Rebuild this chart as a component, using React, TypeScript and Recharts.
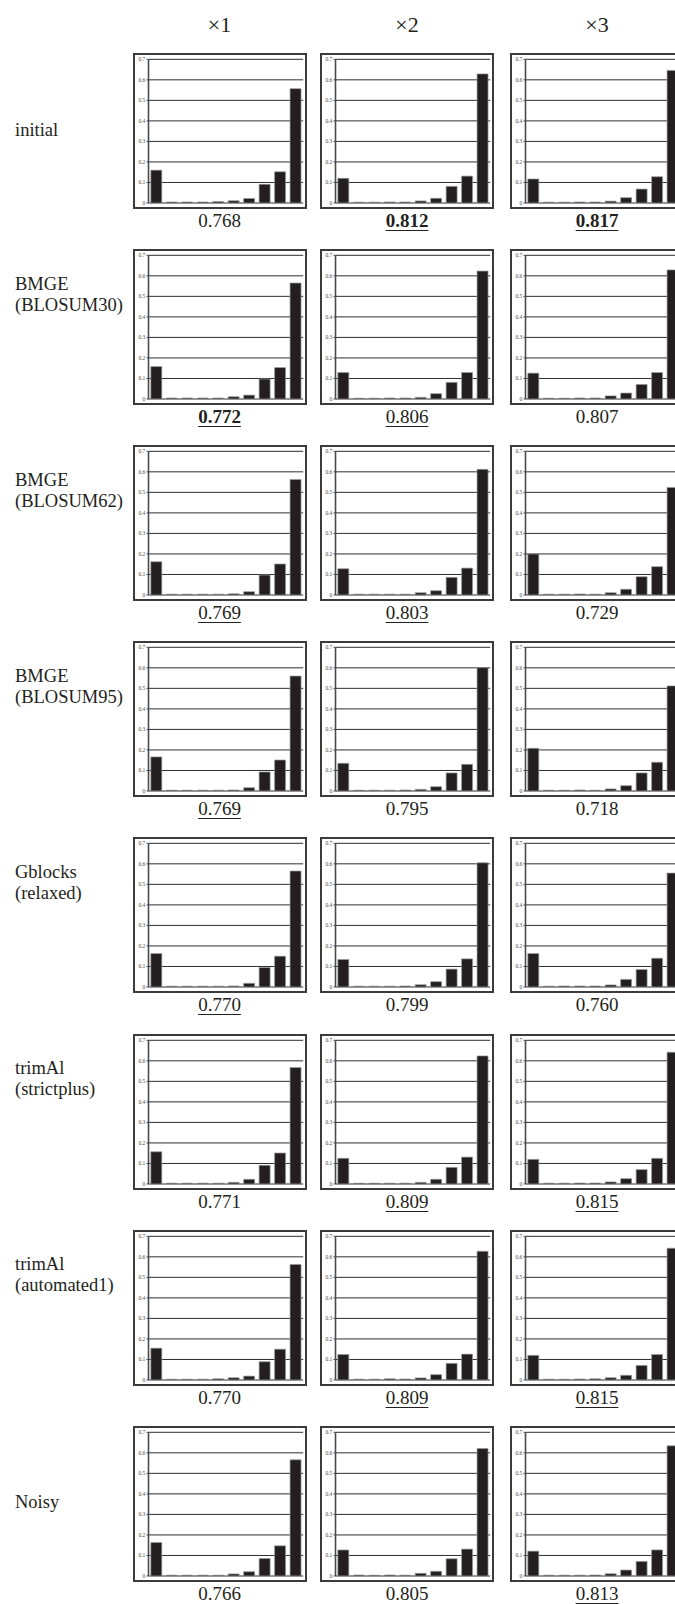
import { BarChart, Bar, XAxis, YAxis, CartesianGrid } from "recharts";

// score-histogram bins (10 per panel, no labels shown)
const BINS = ["0.0", "0.1", "0.2", "0.3", "0.4", "0.5", "0.6", "0.7", "0.8", "0.9"];
const Y_TICKS = [0, 0.1, 0.2, 0.3, 0.4, 0.5, 0.6, 0.7];
const COLUMNS = ["\u00d71", "\u00d72", "\u00d73"];

// one list per row, one inner list per column (x1, x2, x3)
const initial = [
  [0.16, 0.005, 0.005, 0.005, 0.007, 0.011, 0.022, 0.091, 0.152, 0.557],
  [0.12, 0.004, 0.004, 0.005, 0.005, 0.01, 0.023, 0.081, 0.131, 0.629],
  [0.117, 0.004, 0.004, 0.005, 0.005, 0.009, 0.026, 0.068, 0.128, 0.646],
];
const bmge30 = [
  [0.158, 0.005, 0.005, 0.005, 0.005, 0.011, 0.019, 0.097, 0.153, 0.565],
  [0.129, 0.004, 0.004, 0.005, 0.005, 0.008, 0.026, 0.081, 0.129, 0.623],
  [0.126, 0.004, 0.004, 0.005, 0.005, 0.015, 0.029, 0.071, 0.129, 0.629],
];
const bmge62 = [
  [0.162, 0.004, 0.004, 0.004, 0.004, 0.006, 0.016, 0.097, 0.151, 0.563],
  [0.128, 0.004, 0.004, 0.004, 0.004, 0.011, 0.021, 0.086, 0.131, 0.612],
  [0.2, 0.004, 0.004, 0.005, 0.004, 0.011, 0.028, 0.089, 0.138, 0.524],
];
const bmge95 = [
  [0.166, 0.004, 0.004, 0.004, 0.004, 0.005, 0.016, 0.093, 0.151, 0.56],
  [0.135, 0.004, 0.004, 0.004, 0.005, 0.008, 0.021, 0.088, 0.13, 0.601],
  [0.208, 0.004, 0.004, 0.005, 0.004, 0.01, 0.026, 0.088, 0.14, 0.512],
];
const gblocks = [
  [0.163, 0.004, 0.004, 0.004, 0.004, 0.005, 0.018, 0.095, 0.15, 0.565],
  [0.134, 0.004, 0.004, 0.004, 0.005, 0.011, 0.026, 0.087, 0.137, 0.605],
  [0.163, 0.004, 0.005, 0.005, 0.005, 0.01, 0.037, 0.085, 0.14, 0.555],
];
const strictplus = [
  [0.157, 0.004, 0.004, 0.004, 0.004, 0.008, 0.023, 0.091, 0.151, 0.567],
  [0.125, 0.004, 0.004, 0.004, 0.004, 0.008, 0.023, 0.081, 0.131, 0.624],
  [0.12, 0.004, 0.004, 0.005, 0.005, 0.01, 0.026, 0.07, 0.125, 0.642],
];
const automated1 = [
  [0.155, 0.004, 0.004, 0.004, 0.006, 0.011, 0.019, 0.089, 0.15, 0.563],
  [0.124, 0.004, 0.004, 0.006, 0.005, 0.01, 0.026, 0.081, 0.126, 0.627],
  [0.12, 0.004, 0.004, 0.005, 0.006, 0.011, 0.023, 0.071, 0.124, 0.642],
];
const noisy = [
  [0.163, 0.004, 0.004, 0.004, 0.004, 0.01, 0.021, 0.085, 0.147, 0.566],
  [0.127, 0.005, 0.004, 0.005, 0.004, 0.013, 0.023, 0.084, 0.131, 0.621],
  [0.121, 0.004, 0.004, 0.004, 0.005, 0.011, 0.029, 0.071, 0.127, 0.634],
];

const ROW_NAMES = [
  ["initial"],
  ["BMGE", "(BLOSUM30)"],
  ["BMGE", "(BLOSUM62)"],
  ["BMGE", "(BLOSUM95)"],
  ["Gblocks", "(relaxed)"],
  ["trimAl", "(strictplus)"],
  ["trimAl", "(automated1)"],
  ["Noisy"],
];
const SCORES = [
  ["0.768", "0.812", "0.817"],
  ["0.772", "0.806", "0.807"],
  ["0.769", "0.803", "0.729"],
  ["0.769", "0.795", "0.718"],
  ["0.770", "0.799", "0.760"],
  ["0.771", "0.809", "0.815"],
  ["0.770", "0.809", "0.815"],
  ["0.766", "0.805", "0.813"],
];
// best per column -> bold; better than initial x1 -> underlined
const BEST = [
  [false, true, true],
  [true, false, false],
  [false, false, false],
  [false, false, false],
  [false, false, false],
  [false, false, false],
  [false, false, false],
  [false, false, false],
];
const UNDERLINED = [
  [false, true, true],
  [true, true, false],
  [true, true, false],
  [true, false, false],
  [true, false, false],
  [false, true, true],
  [false, true, true],
  [false, false, true],
];

const ROWS = [initial, bmge30, bmge62, bmge95, gblocks, strictplus, automated1, noisy];

const SERIF = "'Liberation Serif', 'DejaVu Serif', serif";
const COL_X = [132.5, 320, 510];
const PANEL_W = 174;
const PANEL_H = 156;
const rowTop = (r: number) => 53 + r * 196.1;

function Panel({ values }: { values: number[] }) {
  const data = BINS.map((bin, i) => ({ bin, v: values[i] }));
  return (
    <BarChart
      width={PANEL_W - 4}
      height={PANEL_H - 4}
      data={data}
      margin={{ top: 4.3, right: 1.8, bottom: 4, left: 0 }}
      barCategoryGap="15%"
    >
      <CartesianGrid vertical={false} stroke="#2e2e2e" strokeWidth={1} />
      <XAxis dataKey="bin" hide />
      <YAxis
        domain={[0, 0.7]}
        ticks={Y_TICKS}
        interval={0}
        width={13.5}
        tickSize={2}
        tickMargin={1.2}
        tickFormatter={(t: number) => (t === 0 ? "0" : String(t))}
        tick={{ fontSize: 5.5, fill: "#4a4a4a", fontFamily: SERIF }}
        axisLine={{ stroke: "#4a4a4a", strokeWidth: 1.6 }}
        tickLine={{ stroke: "#4a4a4a" }}
      />
      <YAxis
        yAxisId="frame"
        orientation="right"
        domain={[0, 0.7]}
        width={0}
        tick={false}
        tickLine={false}
        axisLine={{ stroke: "#9a9a9a", strokeWidth: 1 }}
      />
      <Bar
        dataKey="v"
        fill="#231f20"
        stroke="#9b9b9b"
        strokeWidth={0.7}
        isAnimationActive={false}
      />
    </BarChart>
  );
}

export default function App() {
  return (
    <div
      style={{
        position: "fixed",
        left: 0,
        top: 0,
        width: 675,
        height: 1604,
        overflow: "hidden",
        background: "#fff",
        fontFamily: SERIF,
        color: "#231f20",
      }}
    >
      {COLUMNS.map((c, ci) => (
        <div
          key={c}
          style={{
            position: "absolute",
            left: COL_X[ci],
            width: PANEL_W,
            top: 11,
            fontSize: 22,
            lineHeight: "28px",
            textAlign: "center",
          }}
        >
          {c}
        </div>
      ))}

      {ROWS.map((row, ri) => {
        const top = rowTop(ri);
        const names = ROW_NAMES[ri];
        return (
          <div key={ri}>
            {names.map((n, li) => (
              <div
                key={n + li}
                style={{
                  position: "absolute",
                  left: 15,
                  top: top + (names.length === 1 ? 77 : 35 + li * 21) - 11.5,
                  fontSize: 18.5,
                  lineHeight: "23px",
                  whiteSpace: "nowrap",
                }}
              >
                {n}
              </div>
            ))}
            {row.map((vals, ci) => (
              <div key={ci}>
                <div
                  style={{
                    position: "absolute",
                    left: COL_X[ci],
                    top,
                    width: PANEL_W,
                    height: PANEL_H,
                    border: "2px solid #3b3b3b",
                    boxSizing: "border-box",
                    background: "#fff",
                  }}
                >
                  <Panel values={vals} />
                </div>
                <div
                  style={{
                    position: "absolute",
                    left: COL_X[ci],
                    width: PANEL_W,
                    top: top + PANEL_H,
                    fontSize: 19,
                    lineHeight: "23px",
                    textAlign: "center",
                    fontWeight: BEST[ri][ci] ? "bold" : "normal",
                  }}
                >
                  <span
                    style={{
                      textDecoration: UNDERLINED[ri][ci] ? "underline" : "none",
                      textUnderlineOffset: 3,
                      textDecorationThickness: 1.2,
                    }}
                  >
                    {SCORES[ri][ci]}
                  </span>
                </div>
              </div>
            ))}
          </div>
        );
      })}
    </div>
  );
}
